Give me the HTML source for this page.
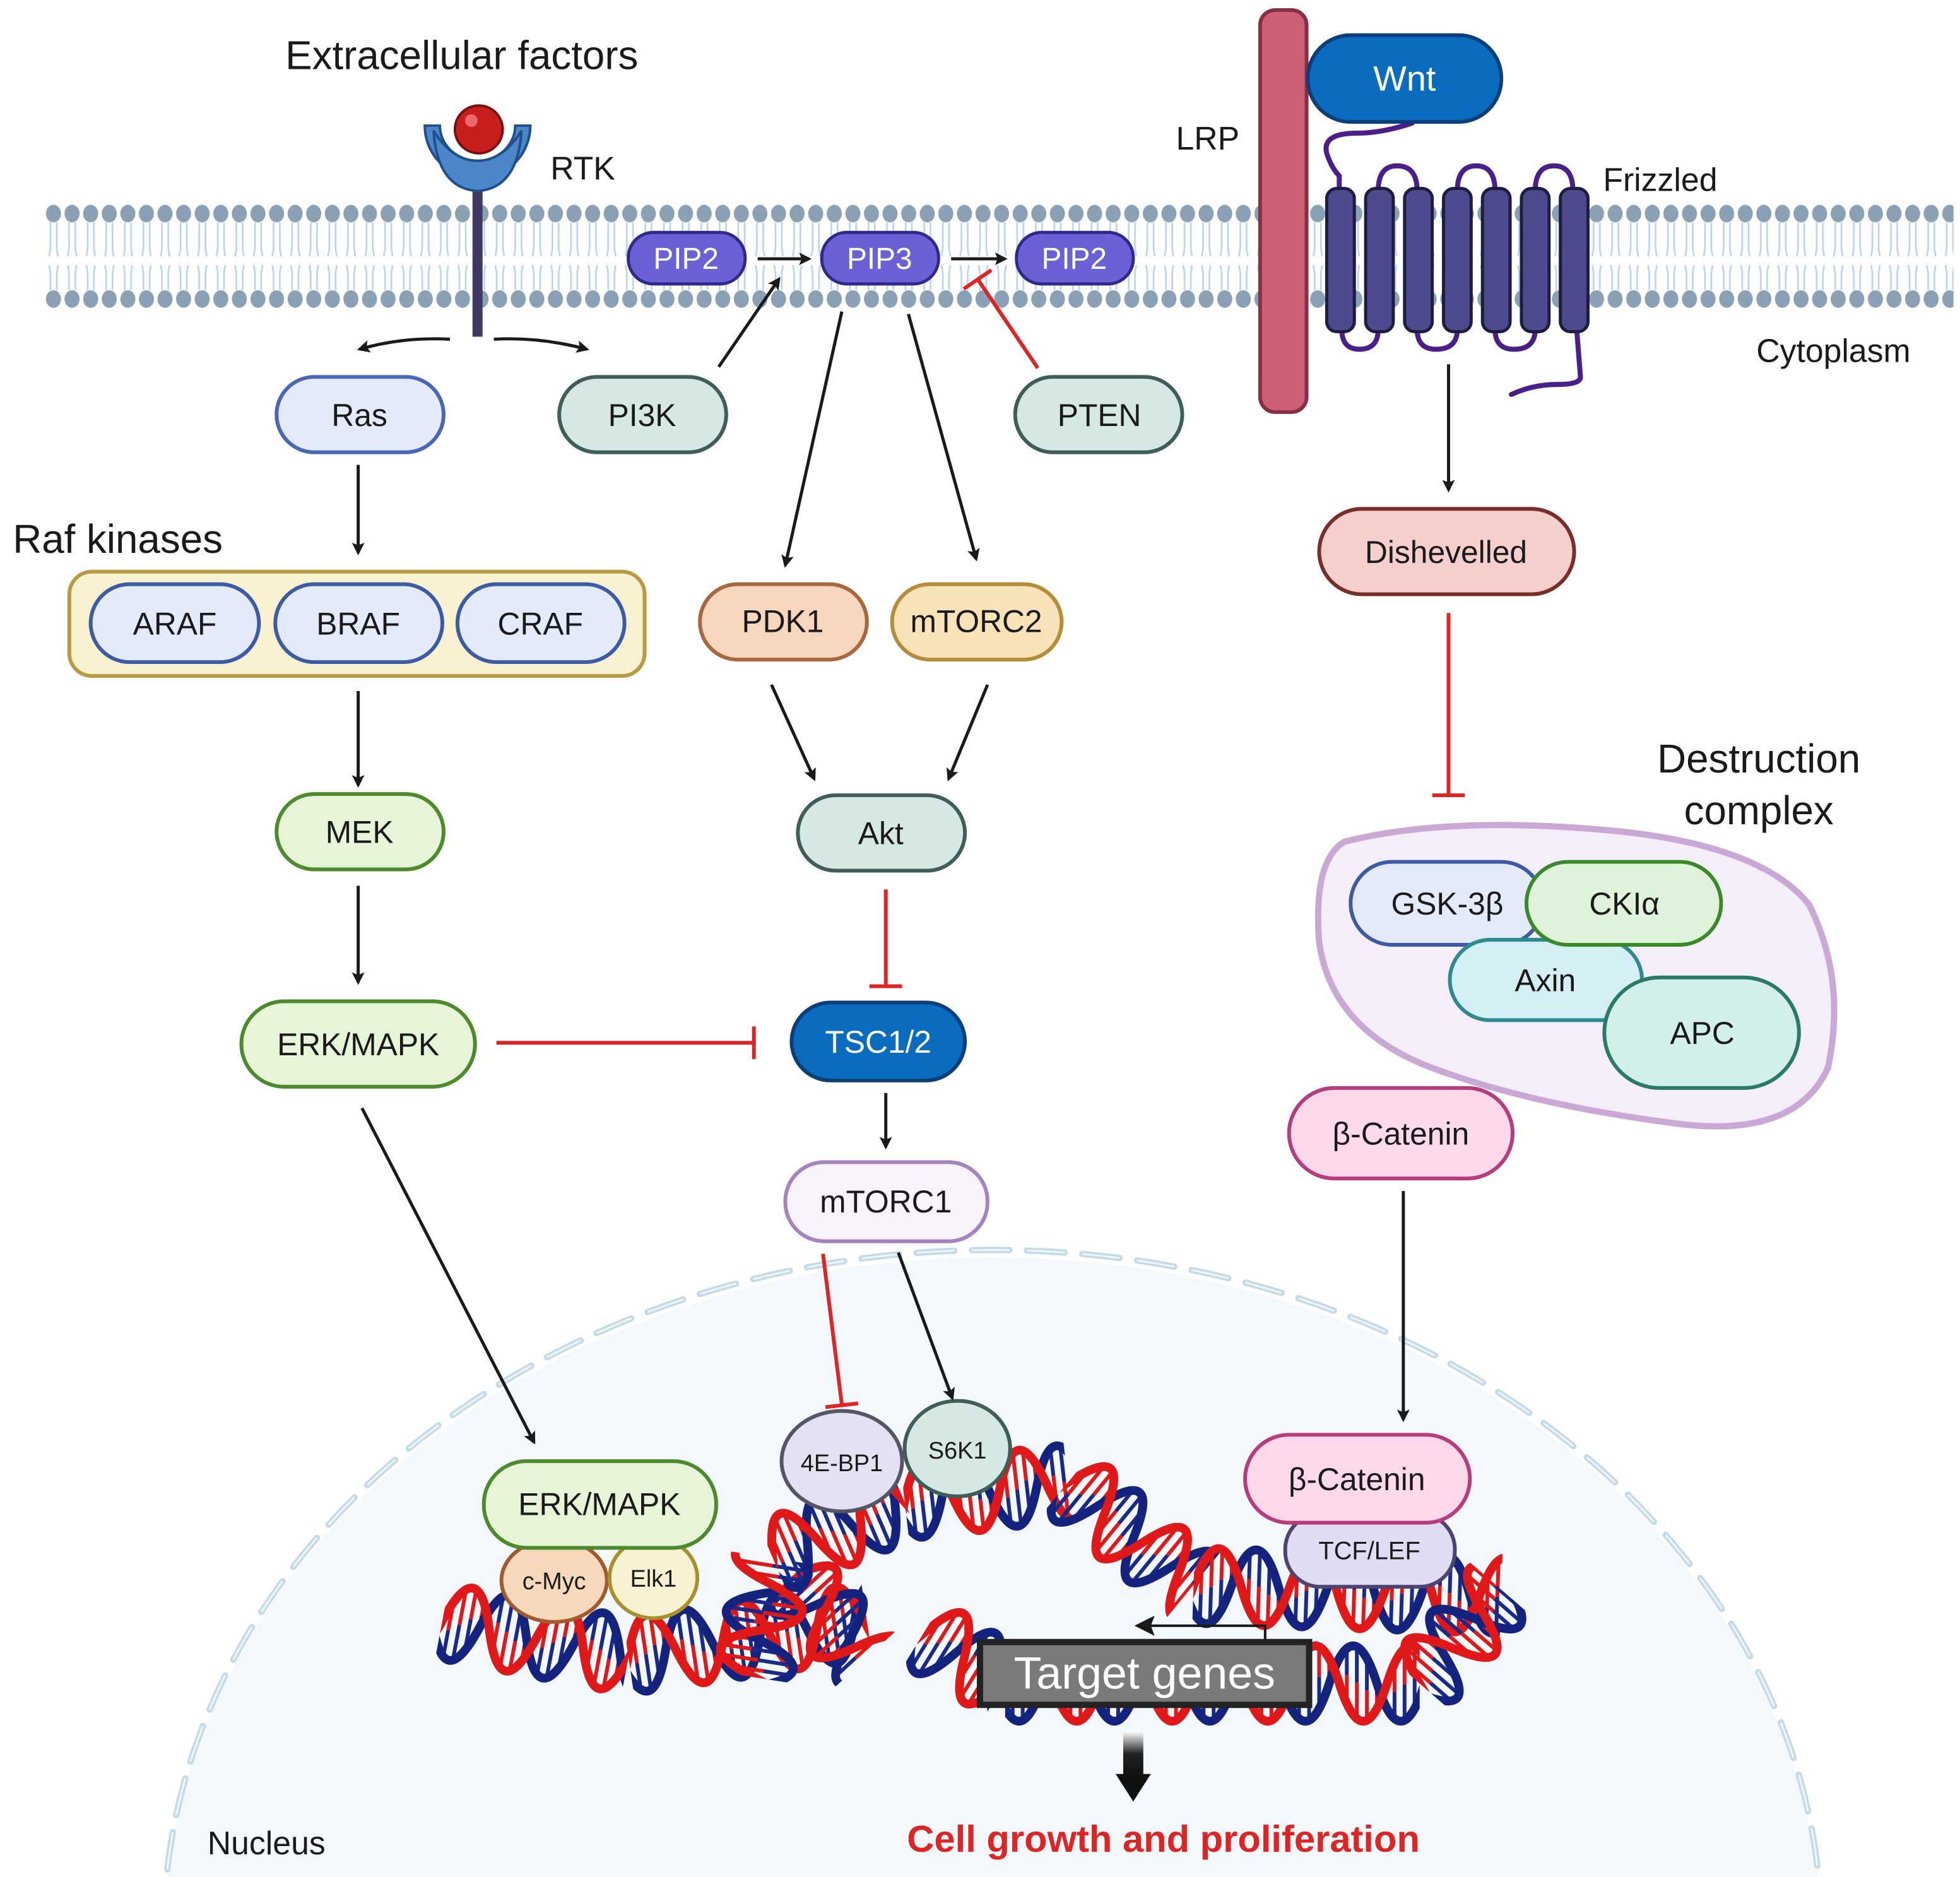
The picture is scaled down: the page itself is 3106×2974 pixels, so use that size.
<!DOCTYPE html>
<html><head><meta charset="utf-8">
<style>
html,body{margin:0;padding:0;background:#fff;width:3106px;height:2974px;overflow:hidden;}
svg{display:block;}
text{font-family:"Liberation Sans",sans-serif;fill:#1a1a1a;}
</style></head>
<body>
<svg xmlns="http://www.w3.org/2000/svg" xmlns:xlink="http://www.w3.org/1999/xlink" width="3106" height="2974" viewBox="0 0 1560 1494">
<defs>
<marker id="ab" markerWidth="10" markerHeight="10" refX="8" refY="5" orient="auto" markerUnits="userSpaceOnUse"><path d="M0,0 L10,5 L0,10 L2,5 z" fill="#1a1a1a"/></marker>
<marker id="ab2" markerWidth="16" markerHeight="16" refX="14" refY="8" orient="auto" markerUnits="userSpaceOnUse"><path d="M0,0 L16,8 L0,16 L3,8 z" fill="#1a1a1a"/></marker>
<pattern id="heads" x="35" y="0" width="14.8" height="300" patternUnits="userSpaceOnUse">
<ellipse cx="7.4" cy="170" rx="6" ry="7" fill="#8aa0b4"/>
<ellipse cx="7.4" cy="238" rx="6" ry="7" fill="#8aa0b4"/>
<path d="M5,177 L5,198 L4,204 M10,177 L10,198 L11,204 M4,211 L5,217 L5,231 M11,211 L10,217 L10,231" stroke="#b9d2ef" stroke-width="1.3" fill="none"/>
</pattern>
<g id="rp" stroke-width="3">
<line x1="6" y1="-14.3" x2="6" y2="6.6" stroke="#e01818"/><line x1="6" y1="6.6" x2="6" y2="27.5" stroke="#1a2a8a"/>
<line x1="14" y1="-27.5" x2="14" y2="0.8" stroke="#e01818"/><line x1="14" y1="0.8" x2="14" y2="29.1" stroke="#1a2a8a"/>
<line x1="22" y1="-29.1" x2="22" y2="-5.4" stroke="#e01818"/><line x1="22" y1="-5.4" x2="22" y2="18.4" stroke="#1a2a8a"/>
<line x1="30" y1="-18.4" x2="30" y2="-9.2" stroke="#e01818"/><line x1="30" y1="-9.2" x2="30" y2="0" stroke="#1a2a8a"/>
<line x1="44" y1="14.3" x2="44" y2="-6.6" stroke="#e01818"/><line x1="44" y1="-6.6" x2="44" y2="-27.5" stroke="#1a2a8a"/>
<line x1="52" y1="27.5" x2="52" y2="-0.8" stroke="#e01818"/><line x1="52" y1="-0.8" x2="52" y2="-29.1" stroke="#1a2a8a"/>
<line x1="60" y1="29.1" x2="60" y2="5.4" stroke="#e01818"/><line x1="60" y1="5.4" x2="60" y2="-18.4" stroke="#1a2a8a"/>
<line x1="68" y1="18.4" x2="68" y2="9.2" stroke="#e01818"/><line x1="68" y1="9.2" x2="68" y2="0" stroke="#1a2a8a"/>
</g>
<g id="hx">
<use xlink:href="#rp" href="#rp" x="0"/><use xlink:href="#rp" href="#rp" x="76"/><use xlink:href="#rp" href="#rp" x="152"/><use xlink:href="#rp" href="#rp" x="228"/><use xlink:href="#rp" href="#rp" x="304"/><use xlink:href="#rp" href="#rp" x="380"/><use xlink:href="#rp" href="#rp" x="456"/>
<path d="M-46,0 Q-27,-60 -8,0 T30,0 T68,0 T106,0 T144,0 T182,0 T220,0 T258,0 T296,0 T334,0 T372,0 T410,0 T448,0 T486,0 T524,0 T562,0" fill="none" stroke="#13237e" stroke-width="7"/>
<path d="M-38,0 Q-19,60 0,0 T38,0 T76,0 T114,0 T152,0 T190,0 T228,0 T266,0 T304,0 T342,0 T380,0 T418,0 T456,0 T494,0 T532,0" fill="none" stroke="#e01818" stroke-width="7"/>
</g>
<linearGradient id="ga" x1="0" y1="0" x2="0" y2="1"><stop offset="0" stop-color="#fff"/><stop offset="0.5" stop-color="#222"/><stop offset="1" stop-color="#111"/></linearGradient>
</defs>

<!-- nucleus -->
<path d="M133,1494 A660,545 0 0 1 1447,1494 Z" fill="#f3f8fd"/>
<path d="M133,1488 A660,545 0 0 1 1447,1488" fill="none" stroke="#c3dae8" stroke-width="5" stroke-dasharray="30 14" stroke-linecap="round"/>
<path d="M133,1488 A660,545 0 0 1 1447,1488" fill="none" stroke="#eef5fb" stroke-width="1.5" stroke-dasharray="30 14"/>

<!-- membrane -->
<rect x="35" y="160" width="1520" height="88" fill="url(#heads)"/>

<!-- RTK -->
<line x1="380" y1="140" x2="380" y2="268" stroke="#3f3864" stroke-width="8"/>
<path d="M338,100 A42,42 0 0 0 422,100 L410,100 A30,28 0 0 1 350,100 Z" fill="#4b86c8" stroke="#1f4f8c" stroke-width="2"/>
<path d="M345,104 Q348,150 380,152 Q412,150 415,104 Q400,128 380,128 Q360,128 345,104Z" fill="#4b86c8" stroke="#1f4f8c" stroke-width="2"/>
<circle cx="381" cy="103" r="19" fill="#c81e1e" stroke="#7a0f0f" stroke-width="2"/>
<circle cx="375" cy="96" r="5" fill="#e86a6a"/>

<!-- LRP -->
<rect x="1003" y="8" width="37" height="320" rx="12" fill="#cc5f74" stroke="#8a2e44" stroke-width="3"/>
<g fill="none" stroke="#4a1f8a" stroke-width="4" stroke-linecap="round">
<path d="M1124,98 Q1100,106 1080,106 Q1052,106 1056,122 Q1060,134 1066,140 L1066,152"/>
<path d="M1097,152 Q1097,132 1112,132 Q1128,132 1128,152"/>
<path d="M1160,152 Q1160,132 1175,132 Q1190,132 1190,152"/>
<path d="M1222,152 Q1222,132 1237,132 Q1252,132 1252,152"/>
<path d="M1068,262 Q1068,278 1082,278 Q1097,278 1097,262"/>
<path d="M1128,262 Q1128,278 1143,278 Q1160,278 1160,262"/>
<path d="M1190,262 Q1190,278 1205,278 Q1222,278 1222,262"/>
<path d="M1255,262 L1258,300 Q1258,306 1240,306 Q1220,306 1203,314"/>
</g>
<g fill="#4e4a8e" stroke="#1e1c40" stroke-width="2.5">
<rect x="1056" y="150" width="22" height="114" rx="8"/>
<rect x="1087" y="150" width="22" height="114" rx="8"/>
<rect x="1118" y="150" width="22" height="114" rx="8"/>
<rect x="1149" y="150" width="22" height="114" rx="8"/>
<rect x="1180" y="150" width="22" height="114" rx="8"/>
<rect x="1211" y="150" width="22" height="114" rx="8"/>
<rect x="1242" y="150" width="22" height="114" rx="8"/>
</g>
<rect x="1041" y="28" width="154" height="69" rx="34" fill="#0a6cbf" stroke="#0c3f7a" stroke-width="3"/>
<text x="1118" y="72" font-size="28" text-anchor="middle" style="fill:#fff">Wnt</text>

<!-- labels -->
<text x="227" y="55" font-size="32">Extracellular factors</text>
<text x="438" y="143" font-size="26">RTK</text>
<text x="936" y="119" font-size="26">LRP</text>
<text x="1276" y="152" font-size="26">Frizzled</text>
<text x="1398" y="288" font-size="26">Cytoplasm</text>
<text x="10" y="440" font-size="32">Raf kinases</text>
<text x="1400" y="615" font-size="32" text-anchor="middle">Destruction</text>
<text x="1400" y="656" font-size="32" text-anchor="middle">complex</text>
<text x="165" y="1476" font-size="26">Nucleus</text>
<text x="926" y="1474" font-size="30" font-weight="bold" text-anchor="middle" style="fill:#e02424">Cell growth and proliferation</text>

<!-- PIPs -->
<g stroke="#2f2a8a" stroke-width="2.5" fill="#6b61d6">
<rect x="500" y="185" width="93" height="41" rx="20"/>
<rect x="654" y="185" width="93" height="41" rx="20"/>
<rect x="809" y="185" width="93" height="41" rx="20"/>
</g>
<g font-size="24" text-anchor="middle">
<text x="546" y="214" style="fill:#fff">PIP2</text><text x="700" y="214" style="fill:#fff">PIP3</text><text x="855" y="214" style="fill:#fff">PIP2</text>
</g>

<!-- destruction complex -->
<path d="M1070,670 Q1150,650 1270,660 Q1400,670 1440,720 Q1470,780 1455,850 Q1430,905 1340,895 Q1220,880 1140,850 Q1060,820 1050,750 Q1045,685 1070,670Z" fill="#f4eefb" stroke="#c9a8d6" stroke-width="5"/>

<!-- nodes -->
<g stroke-width="3">
<rect x="220" y="300" width="133" height="60" rx="30" fill="#e3ebfb" stroke="#4a66b8"/>
<rect x="445" y="300" width="133" height="60" rx="30" fill="#d6e8e3" stroke="#3f5e58"/>
<rect x="808" y="300" width="133" height="60" rx="30" fill="#d6e8e3" stroke="#3f5e58"/>
<rect x="55" y="455" width="458" height="83" rx="18" fill="#f8f1cf" stroke="#b89a42"/>
<rect x="72" y="465" width="134" height="62" rx="31" fill="#e3ebfb" stroke="#3c5aa6"/>
<rect x="219" y="465" width="133" height="62" rx="31" fill="#e3ebfb" stroke="#3c5aa6"/>
<rect x="364" y="465" width="133" height="62" rx="31" fill="#e3ebfb" stroke="#3c5aa6"/>
<rect x="557" y="465" width="133" height="60" rx="30" fill="#f6d6bc" stroke="#a8683f"/>
<rect x="710" y="465" width="135" height="60" rx="30" fill="#f8e2b8" stroke="#b68b3a"/>
<rect x="220" y="632" width="133" height="60" rx="30" fill="#e6f4d8" stroke="#4c8a2c"/>
<rect x="635" y="633" width="133" height="60" rx="30" fill="#d6e8e3" stroke="#3f5e58"/>
<rect x="192" y="797" width="186" height="68" rx="34" fill="#e6f4d8" stroke="#4c8a2c"/>
<rect x="630" y="798" width="138" height="62" rx="31" fill="#0a6cbf" stroke="#0c3f7a"/>
<rect x="625" y="925" width="161" height="63" rx="31" fill="#f8f2fb" stroke="#a582c0"/>
<rect x="1050" y="405" width="203" height="68" rx="34" fill="#f4cfcc" stroke="#7a2e2a"/>
<rect x="1026" y="866" width="178" height="72" rx="36" fill="#fcd9ea" stroke="#b83c7c"/>
<rect x="1075" y="686" width="153" height="66" rx="33" fill="#e3ebfb" stroke="#3c5aa6"/>
<rect x="1154" y="748" width="153" height="64" rx="32" fill="#d3eff3" stroke="#2c8a90"/>
<rect x="1215" y="686" width="155" height="66" rx="33" fill="#def3da" stroke="#3a8a2a"/>
<rect x="1277" y="778" width="155" height="88" rx="44" fill="#d3efe9" stroke="#2a7a6a"/>
</g>
<g font-size="25" text-anchor="middle">
<text x="286" y="339">Ras</text><text x="511" y="339">PI3K</text><text x="875" y="339">PTEN</text>
<text x="139" y="505">ARAF</text><text x="285" y="505">BRAF</text><text x="430" y="505">CRAF</text>
<text x="623" y="503">PDK1</text><text x="777" y="503">mTORC2</text>
<text x="286" y="671">MEK</text><text x="701" y="672">Akt</text>
<text x="285" y="840">ERK/MAPK</text><text x="699" y="838" style="fill:#fff">TSC1/2</text>
<text x="705" y="965">mTORC1</text>
<text x="1151" y="448">Dishevelled</text><text x="1115" y="911">β-Catenin</text>
<text x="1152" y="728">GSK-3β</text><text x="1293" y="728">CKIα</text>
<text x="1230" y="789">Axin</text><text x="1355" y="831">APC</text>
</g>

<!-- DNA -->
<g>
<g transform="translate(352,1290) rotate(10.7)"><svg x="0" y="-40" width="151" height="80" overflow="hidden"><use xlink:href="#hx" href="#hx" y="40"/></svg></g>
<g transform="translate(500,1318) rotate(-8.4)"><svg x="0" y="-40" width="192" height="80" overflow="hidden"><use xlink:href="#hx" href="#hx" y="40"/></svg></g>
<g transform="translate(630,1255) rotate(47.3)"><svg x="0" y="-40" width="88" height="80" overflow="hidden"><use xlink:href="#hx" href="#hx" y="40"/></svg></g>
<g transform="translate(600,1335) rotate(-81)"><svg x="0" y="-40" width="96" height="80" overflow="hidden"><use xlink:href="#hx" href="#hx" y="40"/></svg></g>
<g transform="translate(615,1240) rotate(-23.2)"><svg x="0" y="-40" width="114" height="80" overflow="hidden"><use xlink:href="#hx" href="#hx" y="40"/></svg></g>
<g transform="translate(720,1195) rotate(-6.6)"><svg x="0" y="-40" width="131" height="80" overflow="hidden"><use xlink:href="#hx" href="#hx" y="40"/></svg></g>
<g transform="translate(850,1180) rotate(39.4)"><svg x="0" y="-40" width="129" height="80" overflow="hidden"><use xlink:href="#hx" href="#hx" y="40"/></svg></g>
<g transform="translate(950,1262) rotate(1.9)"><svg x="0" y="-40" width="245" height="80" overflow="hidden"><use xlink:href="#hx" href="#hx" y="40"/></svg></g>
<g transform="translate(735,1300) rotate(31.6)"><svg x="0" y="-40" width="76" height="80" overflow="hidden"><use xlink:href="#hx" href="#hx" y="40"/></svg></g>
<g transform="translate(800,1340)"><svg x="0" y="-40" width="330" height="80" overflow="hidden"><use xlink:href="#hx" href="#hx" y="40"/></svg></g>
<g transform="translate(1130,1340) rotate(-49)"><svg x="0" y="-40" width="99" height="80" overflow="hidden"><use xlink:href="#hx" href="#hx" y="40"/></svg></g>
</g>

<!-- nuclear proteins -->
<g stroke-width="3">
<ellipse cx="441" cy="1258" rx="42" ry="33" fill="#f6d9bb" stroke="#a05a2c"/>
<ellipse cx="520" cy="1256" rx="35" ry="32" fill="#f8f2d2" stroke="#a8902a"/>
<rect x="385" y="1163" width="185" height="69" rx="34" fill="#e6f4d8" stroke="#4c8a2c"/>
<ellipse cx="670" cy="1163" rx="48" ry="40" fill="#e2e2f2" stroke="#555566"/>
<ellipse cx="762" cy="1153" rx="42" ry="38" fill="#d6e8e3" stroke="#3f5e58"/>
<rect x="1023" y="1205" width="135" height="58" rx="28" fill="#e1dcf3" stroke="#4d4470"/>
<rect x="991" y="1142" width="179" height="70" rx="35" fill="#fcd9ea" stroke="#b83c7c"/>
</g>
<g text-anchor="middle">
<text x="477" y="1206" font-size="25">ERK/MAPK</text>
<text x="441" y="1265" font-size="19">c-Myc</text>
<text x="520" y="1263" font-size="19">Elk1</text>
<text x="670" y="1171" font-size="19">4E-BP1</text>
<text x="762" y="1161" font-size="19">S6K1</text>
<text x="1080" y="1186" font-size="25">β-Catenin</text>
<text x="1090" y="1241" font-size="20">TCF/LEF</text>
</g>

<!-- target genes -->
<path d="M1007,1307 L1007,1294 L905,1294" fill="none" stroke="#1a1a1a" stroke-width="2" marker-end="url(#ab2)"/>
<rect x="780" y="1307" width="262" height="50" fill="#7a7a7a" stroke="#222" stroke-width="5"/>
<text x="911" y="1344" font-size="36" text-anchor="middle" style="fill:#fff">Target genes</text>
<rect x="894" y="1378" width="16" height="36" fill="url(#ga)"/>
<path d="M888,1412 L916,1412 L902,1434 Z" fill="#111"/>

<!-- black arrows -->
<g stroke="#1a1a1a" stroke-width="2.5" fill="none" marker-end="url(#ab)">
<path d="M358,270 Q320,268 286,278"/>
<path d="M393,270 Q430,268 467,278"/>
<line x1="285" y1="370" x2="285" y2="440"/>
<line x1="285" y1="550" x2="285" y2="625"/>
<line x1="285" y1="705" x2="285" y2="782"/>
<line x1="288" y1="882" x2="425" y2="1148"/>
<line x1="572" y1="292" x2="620" y2="222"/>
<line x1="603" y1="206" x2="644" y2="206"/>
<line x1="757" y1="206" x2="800" y2="206"/>
<line x1="670" y1="248" x2="625" y2="450"/>
<line x1="723" y1="250" x2="777" y2="445"/>
<line x1="614" y1="545" x2="648" y2="620"/>
<line x1="786" y1="545" x2="755" y2="620"/>
<line x1="705" y1="870" x2="705" y2="913"/>
<line x1="715" y1="997" x2="758" y2="1113"/>
<line x1="1153" y1="290" x2="1153" y2="390"/>
<line x1="1117" y1="948" x2="1117" y2="1130"/>
</g>
<!-- red inhibitions -->
<g stroke="#e02424" stroke-width="3" fill="none">
<line x1="826" y1="293" x2="778" y2="222"/><line x1="767" y1="230" x2="789" y2="215"/>
<line x1="705" y1="708" x2="705" y2="785"/><line x1="692" y1="785" x2="718" y2="785"/>
<line x1="395" y1="830" x2="600" y2="830"/><line x1="600" y1="817" x2="600" y2="843"/>
<line x1="655" y1="998" x2="670" y2="1118"/><line x1="657" y1="1120" x2="683" y2="1117"/>
<line x1="1153" y1="488" x2="1153" y2="633"/><line x1="1140" y1="633" x2="1166" y2="633"/>
</g>
</svg>
</body></html>
